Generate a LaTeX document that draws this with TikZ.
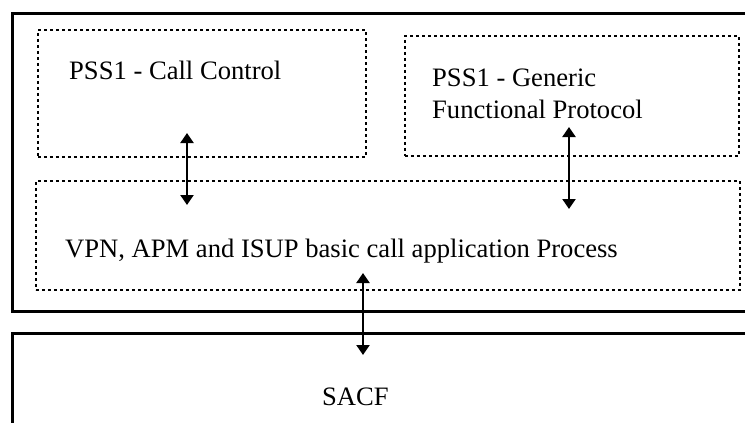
\documentclass[tikz,border=0pt]{standalone}
\usepackage{fontspec}
\setmainfont{Liberation Serif}
\usetikzlibrary{arrows.meta}
\begin{document}
\begin{tikzpicture}[x=1pt,y=-1pt,
  solidbox/.style={draw, line width=2.6pt, rectangle, inner sep=0pt, anchor=north west},
  dotbox/.style={draw, line width=1.8pt, dash pattern=on 3pt off 3pt, rectangle, inner sep=0pt, anchor=north west},
  label/.style={anchor=base west, inner sep=0pt, font=\fontsize{26.6}{32}\selectfont, align=left},
  link/.style={line width=2.2pt, {Triangle[width=13pt,length=10pt]}-{Triangle[width=13pt,length=10pt]}}
]
\useasboundingbox (0,0) rectangle (745,423);
\clip (0,0) rectangle (745,423);

% layer frames
\node[solidbox, minimum width=760pt, minimum height=298pt] (upper) at (11,12) {};
\node[solidbox, minimum width=760pt, minimum height=120pt] (lower) at (11,332) {};

% functional blocks
\node[dotbox, minimum width=328pt, minimum height=127pt] (cc) at (37,29) {};
\node[dotbox, minimum width=334pt, minimum height=120pt] (gfp) at (404,35) {};
\node[dotbox, minimum width=704pt, minimum height=109pt] (app) at (35,180) {};

% texts
\node[label] (cctext) at (69,79) {PSS1 - Call Control};
\node[label] (gfptext) at (432,86) {PSS1 - Generic};
\node[label] (gfptext2) at (432,118) {Functional Protocol};
\node[label] (apptext) at (65,257) {VPN, APM and ISUP basic call application Process};
\node[label] (sacf) at (322,405) {SACF};

% arrow end points
\coordinate (ccend) at (187,133);
\coordinate (appa) at (187,205);
\coordinate (gfpend) at (569,127);
\coordinate (appb) at (569,209);
\coordinate (appc) at (363,273);
\coordinate (sacfend) at (363,355);

\draw[link] (ccend) -- (appa);
\draw[link] (gfpend) -- (appb);
\draw[link] (appc) -- (sacfend);
\end{tikzpicture}
\end{document}
